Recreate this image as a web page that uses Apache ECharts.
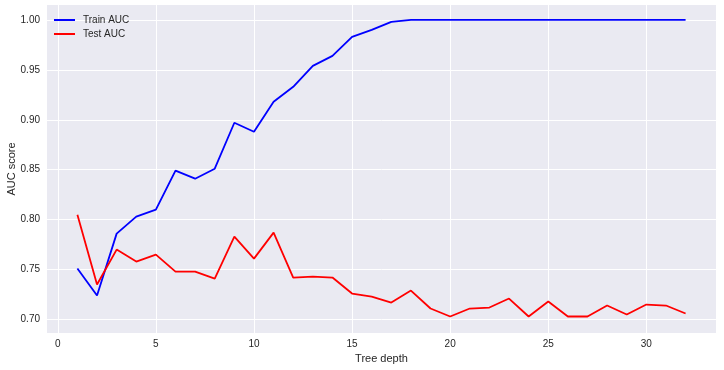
<!DOCTYPE html>
<html>
<head>
<meta charset="utf-8">
<script src="https://cdn.jsdelivr.net/npm/echarts@6/dist/echarts.min.js"></script>
<style>html,body{margin:0;padding:0;background:#fff;}#c{width:724px;height:370px;}</style>
</head>
<body>
<div id="c"></div>
<script>
const depths = [1,2,3,4,5,6,7,8,9,10,11,12,13,14,15,16,17,18,19,20,21,22,23,24,25,26,27,28,29,30,31,32];
const trainAUC = [0.751,0.724,0.786,0.803,0.810,0.849,0.841,0.851,0.897,0.888,0.918,0.933,0.954,0.964,0.983,0.990,0.998,1.000,1.000,1.000,1.000,1.000,1.000,1.000,1.000,1.000,1.000,1.000,1.000,1.000,1.000,1.000];
const testAUC = [0.805,0.735,0.770,0.758,0.765,0.748,0.748,0.741,0.783,0.761,0.787,0.742,0.743,0.742,0.726,0.723,0.717,0.729,0.711,0.703,0.711,0.712,0.721,0.703,0.718,0.703,0.703,0.714,0.705,0.715,0.714,0.706];
const xTicks = [0,5,10,15,20,25,30];
const yTicks = [0.70,0.75,0.80,0.85,0.90,0.95,1.00];

const font = 'Liberation Sans, Arial, sans-serif';
const txt = '#262626';
const chart = echarts.init(document.getElementById('c'));
chart.setOption({
  backgroundColor: '#ffffff',
  animation: false,
  grid: {left: 47, right: 8, top: 5, bottom: 37, show: true, backgroundColor: '#EAEAF2', borderWidth: 0,
         containLabel: false, outerBoundsMode: 'none'},
  legend: {
    left: 49, top: 10, orient: 'vertical', itemGap: 4,
    icon: 'rect', itemWidth: 21, itemHeight: 2,
    textStyle: {fontFamily: font, fontSize: 10, color: txt, padding: [0,0,0,3]},
    data: ['Train AUC', 'Test AUC']
  },
  xAxis: {
    type: 'value', min: -0.55, max: 33.55,
    name: 'Tree depth', nameLocation: 'middle', nameGap: 20, nameMoveOverlap: false,
    nameTextStyle: {fontFamily: font, fontSize: 11, color: txt},
    axisLine: {show: false},
    axisTick: {show: false, customValues: xTicks},
    axisLabel: {customValues: xTicks, fontFamily: font, fontSize: 10, color: txt, margin: 6},
    splitLine: {show: true, lineStyle: {color: '#ffffff', width: 1}}
  },
  yAxis: {
    type: 'value', min: 0.6865, max: 1.0149,
    name: 'AUC score', nameLocation: 'middle', nameGap: 30, nameRotate: 90, nameMoveOverlap: false,
    nameTextStyle: {fontFamily: font, fontSize: 11, color: txt},
    axisLine: {show: false},
    axisTick: {show: false, customValues: yTicks},
    axisLabel: {customValues: yTicks, fontFamily: font, fontSize: 10, color: txt, margin: 7,
      formatter: v => v.toFixed(2)},
    splitLine: {show: true, lineStyle: {color: '#ffffff', width: 1}}
  },
  series: [
    {name: 'Train AUC', type: 'line', data: depths.map((d,i)=>[d, trainAUC[i]]),
     showSymbol: false, symbol: 'none', itemStyle: {color: '#0000ff'}, lineStyle: {color: '#0000ff', width: 1.8}},
    {name: 'Test AUC', type: 'line', data: depths.map((d,i)=>[d, testAUC[i]]),
     showSymbol: false, symbol: 'none', itemStyle: {color: '#ff0000'}, lineStyle: {color: '#ff0000', width: 1.8}}
  ]
});
</script>
</body>
</html>
